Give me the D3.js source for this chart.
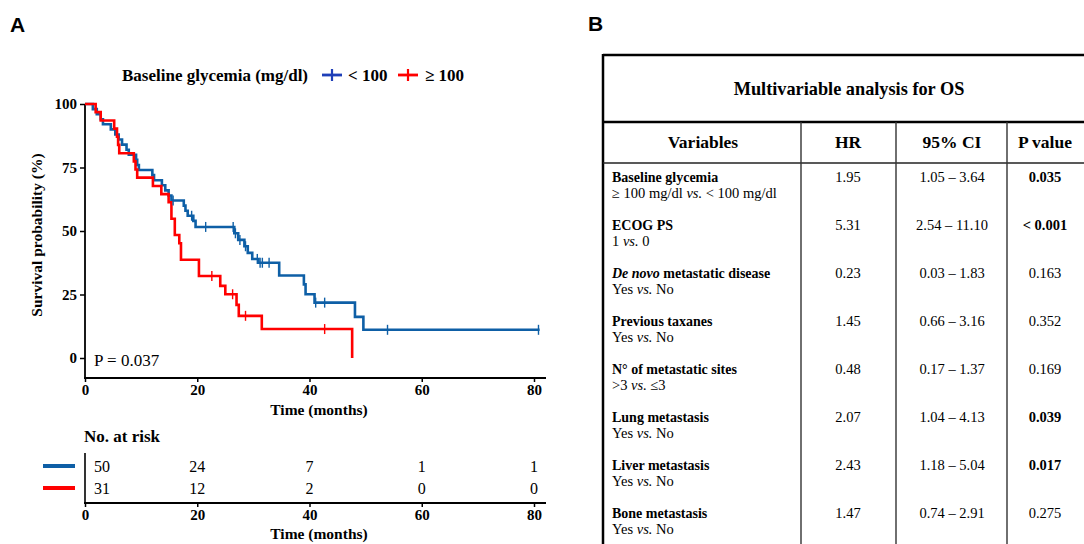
<!DOCTYPE html>
<html><head><meta charset="utf-8">
<script src="https://cdn.jsdelivr.net/npm/d3@7"></script>
<style>body{margin:0;background:#fff}svg{display:block}</style>
</head><body><svg id="c" width="1084" height="544"></svg>
<script>
// ---------- Panel A data ----------
const blueTimes = [0,1.4,2.1,2.8,3.2,4.6,5.4,6.0,6.6,7.4,7.8,9.1,9.3,9.6,12.0,12.3,13.7,14.3,14.9,15.4,17.6,17.9,18.3,19.3,19.7,26.6,27.3,28.4,29.0,29.8,30.9,34.6,39.0,39.3,40.9,48.1,49.6,81.0];
const blueSurv  = [100,98,96,94,92,90,88,86,84,82,80,78,76,74,72,70,68,66,64,62,60,58,56,54,51.6,49.1,46.5,44,41.4,39,37.5,32.5,29,25.1,21.8,16.2,11.1,11.1];
const blueCensor = [15.7,19.0,21.5,26.4,26.8,27.6,28.6,30.7,31.2,31.6,32.8,41.1,42.7,53.9,80.8];
const redTimes = [0,1.9,2.8,5.2,5.7,5.9,6.1,8.7,9.0,9.3,12.1,13.6,14.9,15.4,16.0,16.8,17.1,20.3,24.1,25.0,27.0,27.4,31.5,47.6];
const redSurv  = [100,96.8,93.5,90.3,87.1,83.9,80.6,77.4,74.2,71.0,67.7,64.5,61.3,54.8,48.4,45.2,38.7,32.3,28.4,25.1,20.9,16.6,11.4,0];
const redCensor = [22.6,26.3,28.6,42.7];
const xTicks = [0,20,40,60,80];
const yTicks = [0,25,50,75,100];
const groupLabels = ["< 100","\u2265 100"];
const riskBlue = [50,24,7,1,1];
const riskRed  = [31,12,2,0,0];
const pText = "P = 0.037";

// ---------- Panel B data ----------
const varNames = ["Baseline glycemia","ECOG PS","*De novo* metastatic disease","Previous taxanes","N\u00b0 of metastatic sites","Lung metastasis","Liver metastasis","Bone metastasis"];
const varSubs  = ["\u2265 100 mg/dl *vs.* < 100 mg/dl","1 *vs.* 0","Yes *vs.* No","Yes *vs.* No",">3 *vs.* \u22643","Yes *vs.* No","Yes *vs.* No","Yes *vs.* No"];
const hrVals = ["1.95","5.31","0.23","1.45","0.48","2.07","2.43","1.47"];
const ciVals = ["1.05 \u2013 3.64","2.54 \u2013 11.10","0.03 \u2013 1.83","0.66 \u2013 3.16","0.17 \u2013 1.37","1.04 \u2013 4.13","1.18 \u2013 5.04","0.74 \u2013 2.91"];
const pVals  = ["0.035","< 0.001","0.163","0.352","0.169","0.039","0.017","0.275"];
const pSig   = [true,true,false,false,false,true,true,false];
const headers = ["Variables","HR","95% CI","P value"];

const BLUE = "#0e5fa6", RED = "#ff0000";
const SERIF = "'Liberation Serif','Times New Roman',serif";
const SANS = "'Liberation Sans',Arial,sans-serif";

const svg = d3.select("#c");
svg.append("rect").attr("width",1084).attr("height",544).attr("fill","#fff");

// Panel letters
svg.append("text").attr("x",10).attr("y",32).text("A")
  .attr("font-family",SANS).attr("font-weight","bold").attr("font-size",21);
svg.append("text").attr("x",588).attr("y",31).text("B")
  .attr("font-family",SANS).attr("font-weight","bold").attr("font-size",21);

// ---------- KM plot ----------
const x = d3.scaleLinear().domain([0,80]).range([85,534]);
const y = d3.scaleLinear().domain([0,100]).range([358,104]);
const axisY = 378;

const gA = svg.append("g").attr("font-family",SERIF);

// y axis
const ya = gA.append("g").attr("transform","translate(85,0)")
  .call(d3.axisLeft(y).tickValues(yTicks).tickSize(5).tickPadding(3));
ya.select(".domain").remove();
ya.selectAll("line").attr("stroke","#000").attr("stroke-width",1.5);
ya.selectAll("text").attr("font-family",SERIF).attr("font-weight","bold").attr("font-size",15).attr("fill","#000");
gA.append("line").attr("x1",85).attr("x2",85).attr("y1",y(100)).attr("y2",axisY+1)
  .attr("stroke","#000").attr("stroke-width",1.8);

// x axis
function xAxis(yPos){
  const g = gA.append("g").attr("transform",`translate(0,${yPos})`)
    .call(d3.axisBottom(x).tickValues(xTicks).tickSize(4).tickPadding(2));
  g.select(".domain").remove();
  g.selectAll("line").attr("stroke","#000").attr("stroke-width",1.5);
  g.selectAll("text").attr("font-family",SERIF).attr("font-weight","bold").attr("font-size",15).attr("fill","#000");
  gA.append("line").attr("x1",84).attr("x2",546).attr("y1",yPos).attr("y2",yPos)
    .attr("stroke","#000").attr("stroke-width",1.8);
}
xAxis(axisY);
gA.append("text").attr("x",319).attr("y",415).attr("text-anchor","middle")
  .attr("font-weight","bold").attr("font-size",15.5).text("Time (months)");

// y label
gA.append("text").attr("transform","translate(42,235) rotate(-90)").attr("text-anchor","middle")
  .attr("font-weight","bold").attr("font-size",15.5).text("Survival probability (%)");

// curves
const line = d3.line().x(d=>x(d[0])).y(d=>y(d[1])).curve(d3.curveStepAfter);
function curve(times, surv, color){
  const pts = times.map((t,i)=>[t,surv[i]]);
  gA.append("path").datum(pts).attr("d",line).attr("fill","none")
    .attr("stroke",color).attr("stroke-width",2.6).attr("stroke-linejoin","miter");
}
function survAt(times,surv,t){
  let s = surv[0];
  for(let i=0;i<times.length;i++){ if(times[i]<=t) s=surv[i]; }
  return s;
}
function censors(times,surv,cs,color){
  gA.selectAll(null).data(cs).enter().append("line")
    .attr("x1",d=>x(d)).attr("x2",d=>x(d))
    .attr("y1",d=>y(survAt(times,surv,d))-5).attr("y2",d=>y(survAt(times,surv,d))+5)
    .attr("stroke",color).attr("stroke-width",1.4);
}
curve(blueTimes,blueSurv,BLUE);
curve(redTimes,redSurv,RED);
censors(blueTimes,blueSurv,blueCensor,BLUE);
censors(redTimes,redSurv,redCensor,RED);

gA.append("text").attr("x",94).attr("y",366).attr("font-size",17).text(pText);

// legend
gA.append("text").attr("x",122).attr("y",81).attr("font-weight","bold").attr("font-size",17)
  .text("Baseline glycemia (mg/dl)");
const legX = [322,398], legCol = ["#1f3fb8",RED], legTxtX=[348,425];
legX.forEach((lx,i)=>{
  gA.append("line").attr("x1",lx).attr("x2",lx+20).attr("y1",75).attr("y2",75).attr("stroke",legCol[i]).attr("stroke-width",2.8);
  gA.append("line").attr("x1",lx+10).attr("x2",lx+10).attr("y1",69).attr("y2",81).attr("stroke",legCol[i]).attr("stroke-width",2.2);
  gA.append("text").attr("x",legTxtX[i]).attr("y",81).attr("font-weight","bold").attr("font-size",17).text(groupLabels[i]);
});

// risk table
gA.append("text").attr("x",84).attr("y",442).attr("font-weight","bold").attr("font-size",17).text("No. at risk");
gA.append("line").attr("x1",85).attr("x2",85).attr("y1",453).attr("y2",503).attr("stroke","#000").attr("stroke-width",1.6);
const rows = [[riskBlue,BLUE,467],[riskRed,RED,489]];
rows.forEach(([vals,col,ry])=>{
  gA.append("line").attr("x1",43).attr("x2",75).attr("y1",ry-1).attr("y2",ry-1).attr("stroke",col).attr("stroke-width",4);
  gA.selectAll(null).data(vals).enter().append("text")
    .attr("x",(d,i)=> i===0 ? x(xTicks[i])+17 : x(xTicks[i]))
    .attr("y",ry+5).attr("text-anchor","middle").attr("font-size",16).text(d=>d);
});
xAxis(503);
gA.append("text").attr("x",319).attr("y",539).attr("text-anchor","middle")
  .attr("font-weight","bold").attr("font-size",15.5).text("Time (months)");

// ---------- Table ----------
const gB = svg.append("g").attr("font-family",SERIF);
const L=603, T=55, R=1090;
const colX = [L,801,896,1007,R];
const colC = [703,848,952,1045];
const headTop=122, headBot=163, rowPitch=48, firstRow=182;

gB.append("line").attr("x1",L).attr("x2",R).attr("y1",T).attr("y2",T).attr("stroke","#000").attr("stroke-width",2.5);
gB.append("line").attr("x1",L).attr("x2",L).attr("y1",T-1).attr("y2",544).attr("stroke","#000").attr("stroke-width",2.5);
gB.append("line").attr("x1",L).attr("x2",R).attr("y1",headTop).attr("y2",headTop).attr("stroke","#000").attr("stroke-width",2.5);
gB.append("line").attr("x1",L).attr("x2",R).attr("y1",headBot).attr("y2",headBot).attr("stroke","#222").attr("stroke-width",1.3);
[1,2,3].forEach(i=>{
  gB.append("line").attr("x1",colX[i]).attr("x2",colX[i]).attr("y1",headTop).attr("y2",544).attr("stroke","#333").attr("stroke-width",1.4);
});
gB.append("text").attr("x",849).attr("y",95).attr("text-anchor","middle").attr("font-weight","bold")
  .attr("font-size",18.3).text("Multivariable analysis for OS");
headers.forEach((h,i)=>{
  gB.append("text").attr("x",colC[i]).attr("y",148).attr("text-anchor","middle").attr("font-weight","bold")
    .attr("font-size",17.5).text(h);
});
function rich(sel, str){
  const parts = str.split("*");
  parts.forEach((p,i)=>{ if(p.length) sel.append("tspan").attr("font-style", i%2 ? "italic":"normal").text(p); });
}
varNames.forEach((n,i)=>{
  const yy = firstRow + i*rowPitch;
  rich(gB.append("text").attr("x",612).attr("y",yy).attr("font-weight","bold").attr("font-size",14), n);
  rich(gB.append("text").attr("x",612).attr("y",yy+16).attr("font-size",14.5), varSubs[i]);
  gB.append("text").attr("x",colC[1]).attr("y",yy).attr("text-anchor","middle").attr("font-size",14.5).text(hrVals[i]);
  gB.append("text").attr("x",colC[2]).attr("y",yy).attr("text-anchor","middle").attr("font-size",14.5).text(ciVals[i]);
  gB.append("text").attr("x",colC[3]).attr("y",yy).attr("text-anchor","middle").attr("font-size",14.5)
    .attr("font-weight",pSig[i]?"bold":"normal").text(pVals[i]);
});
</script></body></html>
